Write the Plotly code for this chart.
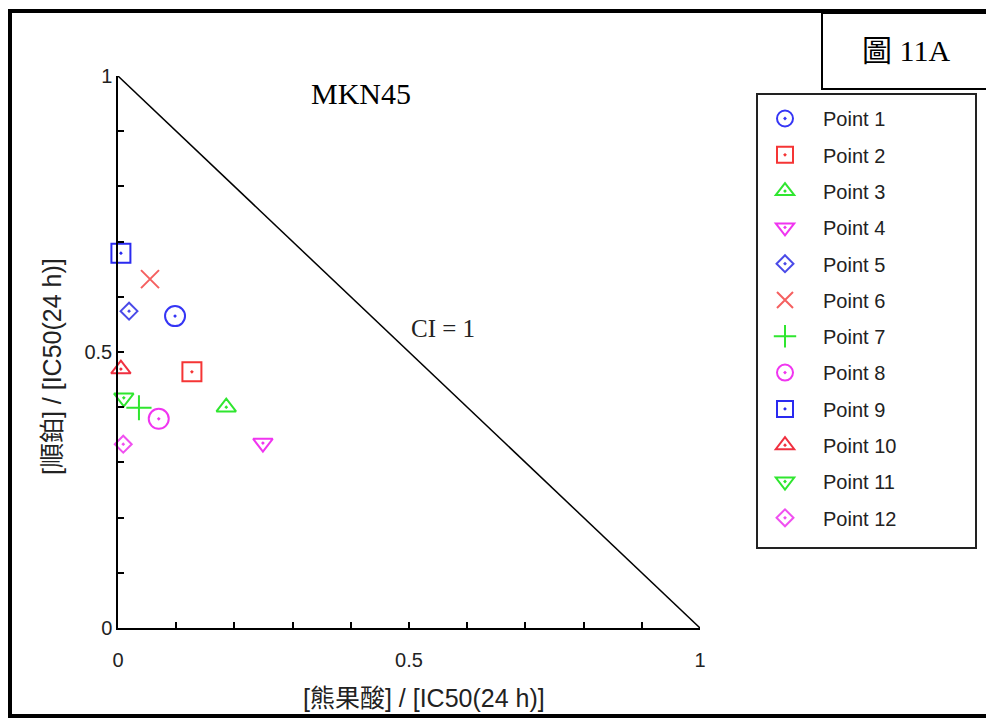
import plotly.graph_objects as go

# Combination-index data: normalised doses of the two drugs
point_names = [f"Point {i}" for i in range(1, 13)]
x_ursolic = [0.098, 0.127, 0.186, 0.249, 0.019, 0.055, 0.036, 0.070, 0.005, 0.005, 0.010, 0.009]
y_cisplatin = [0.565, 0.464, 0.400, 0.335, 0.574, 0.632, 0.399, 0.379, 0.679, 0.469, 0.417, 0.333]

symbols = ["circle-open-dot", "square-open-dot", "triangle-up-open-dot", "triangle-down-open-dot",
           "diamond-open-dot", "x-thin-open", "cross-thin-open", "circle-open-dot",
           "square-open-dot", "triangle-up-open-dot", "triangle-down-open-dot", "diamond-open-dot"]
colors = ["#3535f5", "#f53535", "#2fe62f", "#f035f0", "#4a4ae8", "#f56060",
          "#2fe62f", "#f035f0", "#2a2af0", "#f03040", "#2fe62f", "#f050f0"]
sizes = [20, 19, 17, 17, 13, 18, 18, 20, 19, 17, 17, 13]

# CI = 1 isobole
iso_x = [0, 1]
iso_y = [1, 0]

tick_vals = [i / 10 for i in range(11)]
tick_text = ["0", "", "", "", "", "0.5", "", "", "", "", "1"]

W, H = 986, 719
L, R, T, B = 118, 700, 76, 628


def px(xp):
    return (xp - L) / (R - L)


def py(yp):
    return (B - yp) / (B - T)


fig = go.Figure()
fig.add_trace(go.Scatter(x=iso_x, y=iso_y, mode="lines", line=dict(color="black", width=1.5),
                         showlegend=False, hoverinfo="skip"))
for i, name in enumerate(point_names):
    fig.add_trace(go.Scatter(
        x=[x_ursolic[i]], y=[y_cisplatin[i]], mode="markers", name=name,
        legendgroup=name, cliponaxis=False,
        marker=dict(symbol=symbols[i], size=sizes[i], color=colors[i],
                    line=dict(width=2, color=colors[i]))))

axis_common = dict(range=[0, 1], tickvals=tick_vals, ticktext=tick_text, ticks="inside",
                   ticklen=6, tickwidth=1.5, tickcolor="black", showline=True,
                   linecolor="black", linewidth=1.5, showgrid=False, zeroline=False,
                   tickfont=dict(family="Liberation Sans, Arial", size=20, color="#222"))

label_font = dict(family="Liberation Sans, Noto Sans CJK TC", size=25, color="#222")


def note(text, xp, yp, font, **kw):
    return dict(text=text, xref="paper", yref="paper", x=px(xp), y=py(yp), showarrow=False,
                xanchor="center", yanchor="middle", font=font, **kw)


fig.update_layout(
    width=W, height=H,
    margin=dict(l=L, r=W - R, t=T, b=H - B, autoexpand=False),
    paper_bgcolor="white", plot_bgcolor="white",
    xaxis=dict(**axis_common, ticklabelstandoff=13),
    yaxis=dict(**axis_common),
    legend=dict(x=px(747), y=py(99), xanchor="left", yanchor="top",
                font=dict(family="Liberation Sans, Arial", size=20, color="#222"),
                bgcolor="rgba(0,0,0,0)", borderwidth=0, itemwidth=66,
                tracegroupgap=7.3, traceorder="grouped"),
    shapes=[
        # outer frame
        dict(type="rect", xref="paper", yref="paper", x0=px(10), x1=px(995), y0=py(716), y1=py(11),
             line=dict(color="black", width=4)),
        # figure label box
        dict(type="rect", xref="paper", yref="paper", x0=px(822), x1=px(995), y0=py(89), y1=py(13),
             line=dict(color="black", width=2)),
        # legend box
        dict(type="rect", xref="paper", yref="paper", x0=px(757), x1=px(976), y0=py(548), y1=py(94),
             line=dict(color="#222", width=2)),
    ],
    annotations=[
        note("MKN45", 361, 93, dict(family="Liberation Serif, Times New Roman", size=30, color="black")),
        note("CI = 1", 443, 328, dict(family="Liberation Serif, Times New Roman", size=25, color="#222")),
        note("圖 11A", 906, 50, dict(family="Liberation Serif, Noto Sans CJK TC", size=30, color="black")),
        note("[熊果酸] / [IC50(24 h)]", 424, 698, label_font),
        note("[順鉑] / [IC50(24 h)]", 52, 367, label_font, textangle=-90),
    ],
)

fig.write_html("out.html")
